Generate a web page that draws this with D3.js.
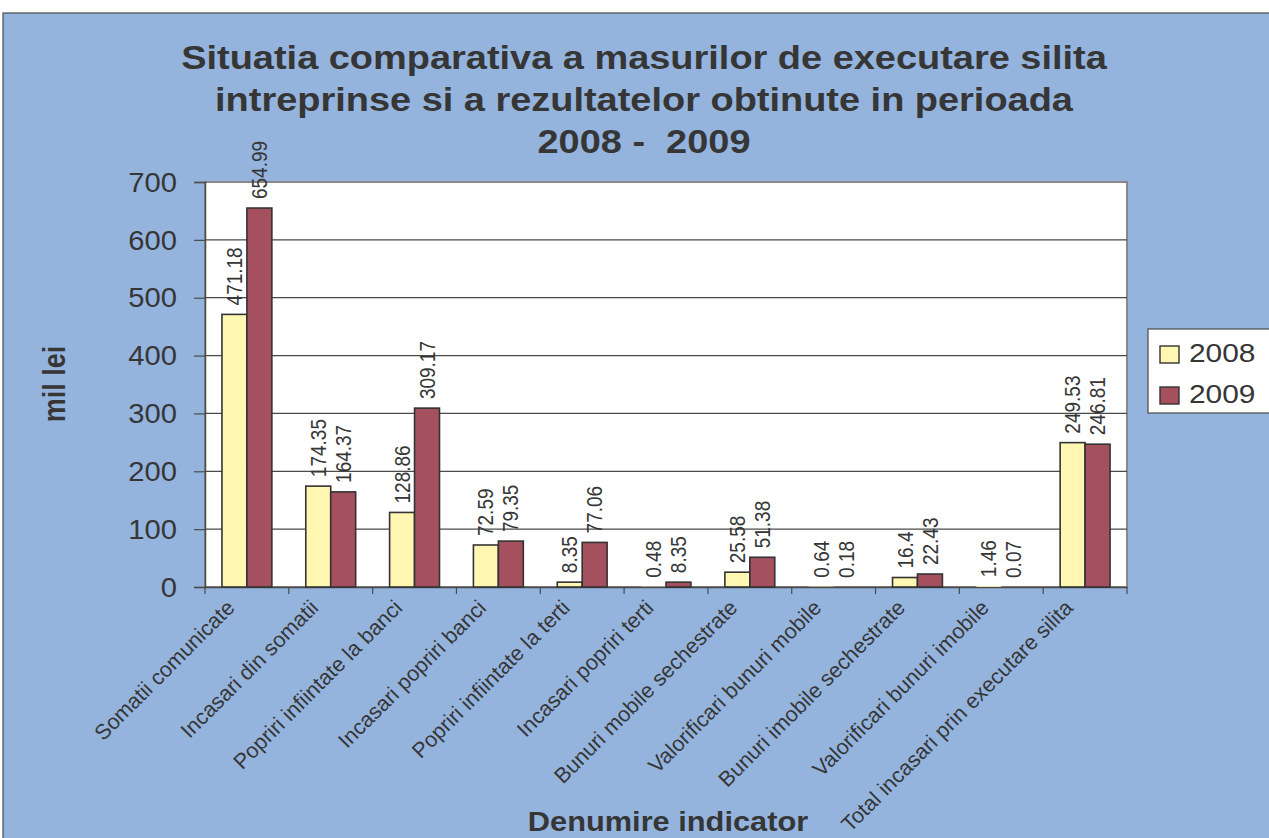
<!DOCTYPE html>
<head>
    <meta charset="utf-8" />
    <title>Situatia comparativa</title>
    <script src="https://d3js.org/d3.v7.min.js"></script>
    <style>
        body { margin: 0; background: #fff; }
        svg { display: block; font-family: "Liberation Sans", Arial, sans-serif; }
        text { white-space: pre; }
    </style>
</head>
<body>
<svg width="1269" height="838"></svg>

<script>
    // data
    let categories = ["Somatii comunicate", "Incasari din somatii", "Popriri infiintate la banci",
        "Incasari popriri banci", "Popriri infiintate la terti", "Incasari popriri terti",
        "Bunuri mobile sechestrate", "Valorificari bunuri mobile", "Bunuri imobile sechestrate",
        "Valorificari bunuri imobile", "Total incasari prin executare silita"];
    let years = ["2008", "2009"];
    let values2008 = [471.18, 174.35, 128.86, 72.59, 8.35, 0.48, 25.58, 0.64, 16.4, 1.46, 249.53];
    let values2009 = [654.99, 164.37, 309.17, 79.35, 77.06, 8.35, 51.38, 0.18, 22.43, 0.07, 246.81];
    let yTicks = [0, 100, 200, 300, 400, 500, 600, 700];
    let titleLines = ["Situatia comparativa a masurilor de executare silita",
        "intreprinse si a rezultatelor obtinute in perioada", "2008 -  2009"];

    let colors = {"2008": "#FFF7B2", "2009": "#A5505E"};
    let textColor = "#363636";
    let sx = 1.14; // the original picture is a bit wider than tall

    let svg = d3.select("svg");

    // blue chart area
    svg.append("rect").attr("x", 3).attr("y", 13).attr("width", 1280).attr("height", 840)
        .attr("fill", "#94B4DE").attr("stroke", "#4a4a4a").attr("stroke-width", 1.2);

    let x0 = d3.scaleBand().domain(categories).range([205, 1127]).padding(0);
    let x1 = d3.scaleBand().domain(years).range([0, x0.bandwidth()]).paddingInner(0).paddingOuter(0.68);
    let y = d3.scaleLinear().domain([0, 700]).range([587, 182]);

    // plot area
    svg.append("rect").attr("x", 205).attr("y", 182).attr("width", 922).attr("height", 405)
        .attr("fill", "#fff").attr("stroke", "#8c8686").attr("stroke-width", 2);

    // gridlines
    svg.append("g").selectAll("line").data(yTicks.filter(d => d > 0 && d < 700)).join("line")
        .attr("x1", 205).attr("x2", 1127)
        .attr("y1", d => y(d)).attr("y2", d => y(d))
        .attr("stroke", "#4a4a4a").attr("stroke-width", 1.2);

    // y axis
    let yAxis = svg.append("g").attr("transform", "translate(205,0)")
        .call(d3.axisLeft(y).tickValues(yTicks).tickSize(11).tickFormat(d3.format("d")));
    yAxis.select(".domain").attr("stroke", "#4a4a4a").attr("stroke-width", 1.5);
    yAxis.selectAll(".tick line").attr("stroke", "#4a4a4a").attr("stroke-width", 1.2);
    yAxis.selectAll(".tick text").remove();
    svg.append("g").selectAll("text").data(yTicks).join("text")
        .attr("transform", d => "translate(177," + y(d) + ") scale(1.08,1)")
        .attr("dy", "0.36em").attr("text-anchor", "end")
        .attr("font-size", 27).attr("fill", textColor).text(d => d);

    // x axis
    let xAxis = svg.append("g").attr("transform", "translate(0,587)")
        .call(d3.axisBottom(x0).tickSize(0).tickFormat(""));
    xAxis.select(".domain").attr("stroke", "#4a4a4a").attr("stroke-width", 1.5);
    svg.append("g").selectAll("line").data(d3.range(categories.length + 1)).join("line")
        .attr("x1", i => 205 + i * x0.step()).attr("x2", i => 205 + i * x0.step())
        .attr("y1", 587).attr("y2", 594)
        .attr("stroke", "#4a4a4a").attr("stroke-width", 1.2);

    svg.append("g").selectAll("text").data(categories).join("text")
        .attr("transform", d => "translate(" + (x0(d) + x0.bandwidth() / 2 - 11) + ",609) rotate(-45)")
        .attr("text-anchor", "end").attr("font-size", 21.5).attr("fill", textColor).text(d => d);

    // bars
    let rows = categories.map((c, i) => ({cat: c, vals: [
        {year: "2008", v: values2008[i]}, {year: "2009", v: values2009[i]}]}));

    let groups = svg.append("g").selectAll("g").data(rows).join("g")
        .attr("transform", d => "translate(" + x0(d.cat) + ",0)");

    groups.selectAll("rect").data(d => d.vals).join("rect")
        .attr("x", d => x1(d.year)).attr("width", x1.bandwidth())
        .attr("y", d => y(d.v)).attr("height", d => y(0) - y(d.v))
        .attr("fill", d => colors[d.year])
        .attr("stroke", d => d.v > 2 ? "#333" : "none").attr("stroke-width", 1.6);

    groups.selectAll("text").data(d => d.vals).join("text")
        .attr("transform", d => "translate(" + (x1(d.year) + x1.bandwidth() / 2) + "," + (y(d.v) - 9) + ") scale(" + sx + ",1) rotate(-90)")
        .attr("dy", "0.35em")
        .attr("font-size", 19).attr("fill", textColor).text(d => d.v);

    // titles
    svg.append("g").selectAll("text").data(titleLines).join("text")
        .attr("transform", (d, i) => "translate(644," + (69 + i * 42) + ") scale(1.15,1)")
        .attr("text-anchor", "middle").attr("font-size", 33).attr("font-weight", "bold")
        .attr("fill", textColor).text(d => d);

    svg.append("text")
        .attr("transform", "translate(668,831) scale(" + sx + ",1)")
        .attr("text-anchor", "middle").attr("font-size", 27).attr("font-weight", "bold")
        .attr("fill", textColor).text("Denumire indicator");

    svg.append("text")
        .attr("transform", "translate(65,384) scale(" + sx + ",1) rotate(-90)")
        .attr("text-anchor", "middle").attr("font-size", 27).attr("font-weight", "bold")
        .attr("fill", textColor).text("mil lei");

    // legend
    let legend = svg.append("g");
    legend.append("rect").attr("x", 1148).attr("y", 329).attr("width", 130).attr("height", 84)
        .attr("fill", "#fff").attr("stroke", "#4a4a4a").attr("stroke-width", 1.2);
    let items = legend.selectAll("g").data(years).join("g")
        .attr("transform", (d, i) => "translate(1160," + (346 + i * 41) + ")");
    items.append("rect").attr("width", 19).attr("height", 17)
        .attr("fill", d => colors[d]).attr("stroke", "#333").attr("stroke-width", 1.4);
    items.append("text")
        .attr("transform", "translate(29,16) scale(1.15,1)")
        .attr("font-size", 26).attr("fill", textColor).text(d => d);
</script>
</body>
